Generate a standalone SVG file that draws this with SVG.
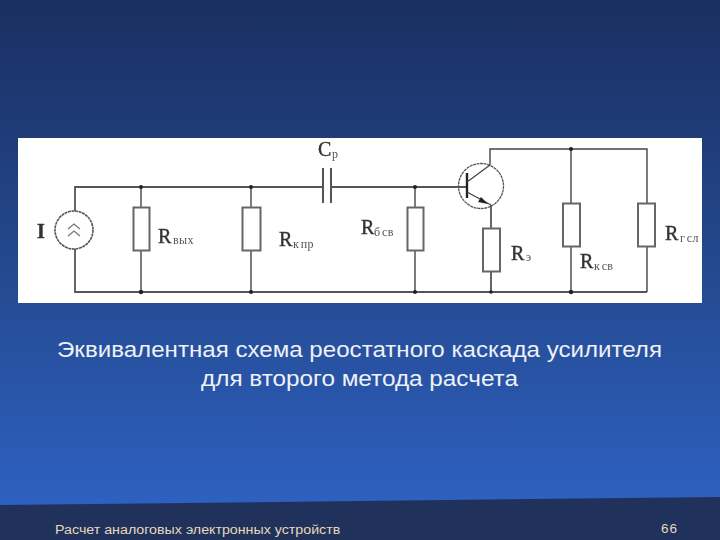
<svg xmlns="http://www.w3.org/2000/svg" width="720" height="540" viewBox="0 0 720 540">
<style>
.w{fill:none;stroke:#444;stroke-width:1.4}
.t{fill:none;stroke:#555;stroke-width:1.8}
.r{fill:#fff;stroke:#666;stroke-width:2}
.d{fill:#222}
.l{font-family:"Liberation Serif",serif;fill:#333;font-size:20px;stroke:#333;stroke-width:.4}
.s{font-family:"Liberation Serif",serif;fill:#555;font-size:12px;letter-spacing:.4px;word-spacing:-2px}
.c{font-family:"Liberation Sans",sans-serif;font-size:22px;fill:#eef1f6;text-anchor:middle}
.f{font-family:"Liberation Sans",sans-serif;font-size:13.5px;fill:#e6d8b8}
</style>
<defs>
<linearGradient id="bg" x1="0" y1="0" x2="0" y2="1"><stop offset="0" stop-color="#1a2f62"/><stop offset=".5" stop-color="#24498f"/><stop offset="1" stop-color="#2f64c8"/></linearGradient>
<filter id="soft" x="0" y="0" width="1" height="1"><feGaussianBlur stdDeviation=".45"/></filter>
</defs>
<rect width="720" height="540" fill="url(#bg)"/>
<polygon points="0,505 720,497 720,540 0,540" fill="#20325c"/>
<rect x="18" y="138" width="684" height="165" fill="#fff"/>
<g filter="url(#soft)">
<g id="connectors">
<path class="t" d="M75 211V187H322M332 187H467M75 249V292H647"/>
<path class="w" d="M647 292V149H490V165M141 187V207M141 251V292M251 187V207M251 251V292M415 187V207M415 251V292M571 149V203M571 246V292"/>
<path class="t" d="M491 205V228M491 271V292"/>
<path d="M323 168V203M331 168V203" fill="none" stroke="#555" stroke-width="2"/>
</g>
<g id="nodes-dots">
<circle class="d" cx="141" cy="187" r="2"/><circle class="d" cx="251" cy="187" r="2"/><circle class="d" cx="415" cy="187" r="2"/>
<circle class="d" cx="141" cy="292" r="2.2"/><circle class="d" cx="251" cy="292" r="2"/><circle class="d" cx="415" cy="292" r="2"/><circle class="d" cx="491" cy="292" r="1.8"/><circle class="d" cx="571" cy="292" r="2.2"/><circle class="d" cx="571" cy="149" r="2"/>
</g>
<g id="source-I">
<circle cx="74" cy="230" r="19" fill="#fff" stroke="#555" stroke-width="1.6" stroke-dasharray="3 .6"/>
<path d="M68 229L74 224L80 229M68 236L74 231L80 236" fill="none" stroke="#777" stroke-width="1.3"/>
<text class="l" x="37" y="238" font-weight="bold">I</text>
</g>
<g id="R-vyh"><rect class="r" x="133.500" y="207.500" width="16" height="43"/><text class="l" x="158" y="243">R</text><text class="s" x="173" y="244">вых</text></g>
<g id="R-k-pr"><rect class="r" x="242.500" y="207.500" width="18" height="43"/><text class="l" x="279" y="246">R</text><text class="s" x="293" y="248">к пр</text></g>
<g id="C-p"><text class="l" x="318" y="156">C</text><text class="s" x="332" y="158">р</text></g>
<g id="R-b-sv"><rect class="r" x="407.500" y="207.500" width="16" height="43"/><text class="l" x="361" y="234">R</text><text class="s" x="374" y="236">б св</text></g>
<g id="transistor">
<circle cx="481" cy="186" r="22.500" fill="none" stroke="#555" stroke-width="1.3" stroke-dasharray="3 .6"/>
<path d="M467 173V198" stroke="#222" stroke-width="2.400" fill="none"/>
<path d="M467 182L490 165M467 192L491 205" stroke="#444" stroke-width="1.300" fill="none"/>
<polygon points="488,204 481,197 478,202" fill="#222"/>
</g>
<g id="R-e"><rect class="r" x="483" y="228.500" width="17" height="43"/><text class="l" x="511" y="260">R</text><text class="s" x="526" y="261">э</text></g>
<g id="R-k-sv"><rect class="r" x="563" y="203.500" width="17" height="43"/><text class="l" x="580" y="268">R</text><text class="s" x="594" y="270">к св</text></g>
<g id="R-g-sl"><rect class="r" x="638" y="203.500" width="17" height="43"/><text class="l" x="665" y="240">R</text><text class="s" x="680" y="242">г сл</text></g>
</g>
<text class="c" transform="translate(359.500 356.500) scale(1.096 1)">Эквивалентная схема реостатного каскада усилителя</text>
<text class="c" transform="translate(359.500 385.500) scale(1.105 1)">для второго метода расчета</text>
<text class="f" transform="translate(55 534) scale(1.055 1)">Расчет аналоговых электронных устройств</text>
<text class="f" x="661" y="533" letter-spacing="1">66</text>
</svg>
